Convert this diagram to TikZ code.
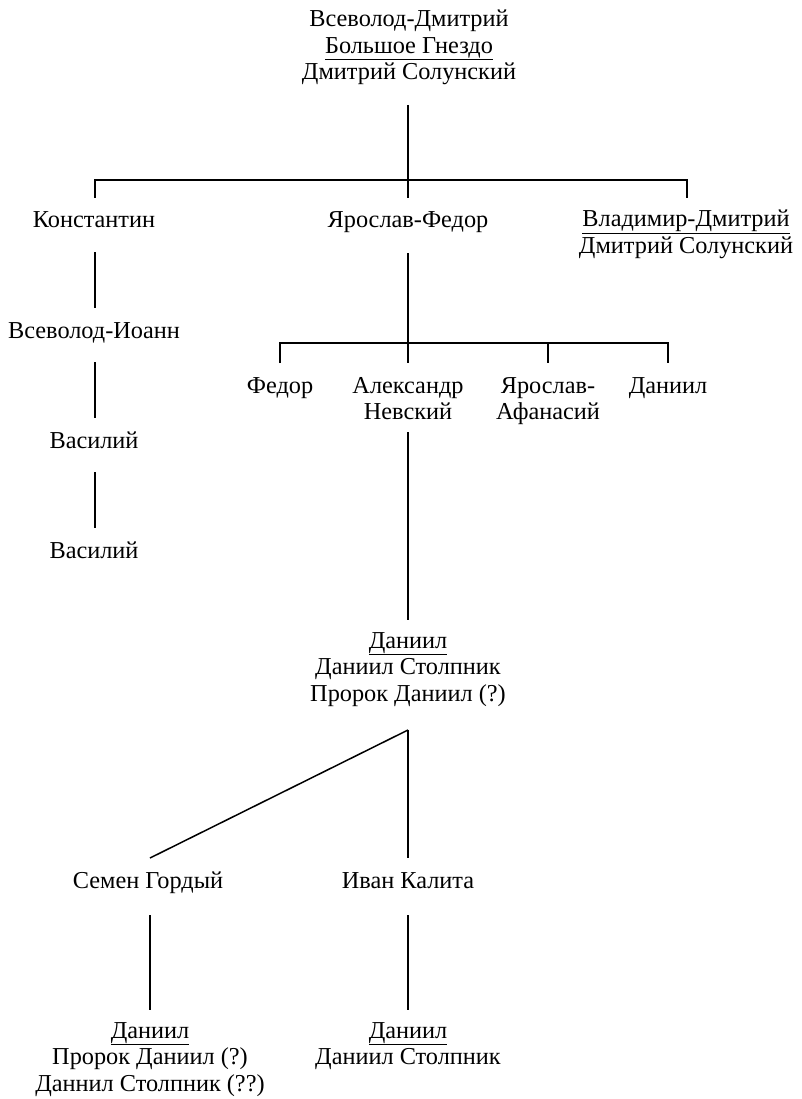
\documentclass[tikz,border=0pt]{standalone}
\usepackage{fontspec}
\setmainfont{Liberation Serif}
\begin{document}
\begin{tikzpicture}[x=1pt,y=-1pt,
  nm/.style={anchor=base,inner sep=0pt,font=\fontsize{24.3}{26.5}\selectfont},
  ln/.style={line width=1.5pt}]
\useasboundingbox (0,0) rectangle (801,1099);
\newcommand{\stk}[1]{\begin{tabular}[t]{@{}c@{}}#1\end{tabular}}
% nodes (positioned at first-line baselines)
\node[nm] (top) at (409,27) {\stk{Всеволод-Дмитрий\\\underline{Большое Гнездо}\\Дмитрий Солунский}};
\node[nm] (kon) at (94,228) {Константин};
\node[nm] (yar) at (408,228) {Ярослав-Федор};
\node[nm] (vla) at (686,227) {\stk{\underline{Владимир-Дмитрий}\\Дмитрий Солунский}};
\node[nm] (vsi) at (94,338) {Всеволод-Иоанн};
\node[nm] (va1) at (94,448) {Василий};
\node[nm] (va2) at (94,558) {Василий};
\node[nm] (fed) at (280,393) {Федор};
\node[nm] (ale) at (408,393) {\stk{Александр\\Невский}};
\node[nm] (yaa) at (548,393) {\stk{Ярослав-\\Афанасий}};
\node[nm] (dan) at (668,393) {Даниил};
\node[nm] (dn1) at (408,648) {\stk{\underline{Даниил}\\Даниил Столпник\\Пророк Даниил (?)}};
\node[nm] (sem) at (148,888) {Семен Гордый};
\node[nm] (iva) at (408,888) {Иван Калита};
\node[nm] (dn2) at (150,1038) {\stk{\underline{Даниил}\\Пророк Даниил (?)\\Даннил Столпник (??)}};
\node[nm] (dn3) at (408,1038) {\stk{\underline{Даниил}\\Даниил Столпник}};
% junctions
\coordinate (j1) at (408,180);
\coordinate (j2) at (408,343);
\coordinate (j3) at (408,730);
% connectors
\draw[ln] (408,105) -- (j1);
\draw[ln] (95,198) -- (95,180) -- (687,180) -- (687,198);
\draw[ln] (j1) -- (408,198);
\draw[ln] (95,252) -- (95,308);
\draw[ln] (95,362) -- (95,418);
\draw[ln] (95,472) -- (95,528);
\draw[ln] (408,253) -- (j2);
\draw[ln] (280,363) -- (280,343) -- (668,343) -- (668,363);
\draw[ln] (j2) -- (408,363);
\draw[ln] (548,343) -- (548,363);
\draw[ln] (408,432) -- (408,620);
\draw[ln] (j3) -- (408,858);
\draw[ln] (j3) -- (150,858);
\draw[ln] (150,915) -- (150,1010);
\draw[ln] (408,915) -- (408,1010);
\end{tikzpicture}
\end{document}
